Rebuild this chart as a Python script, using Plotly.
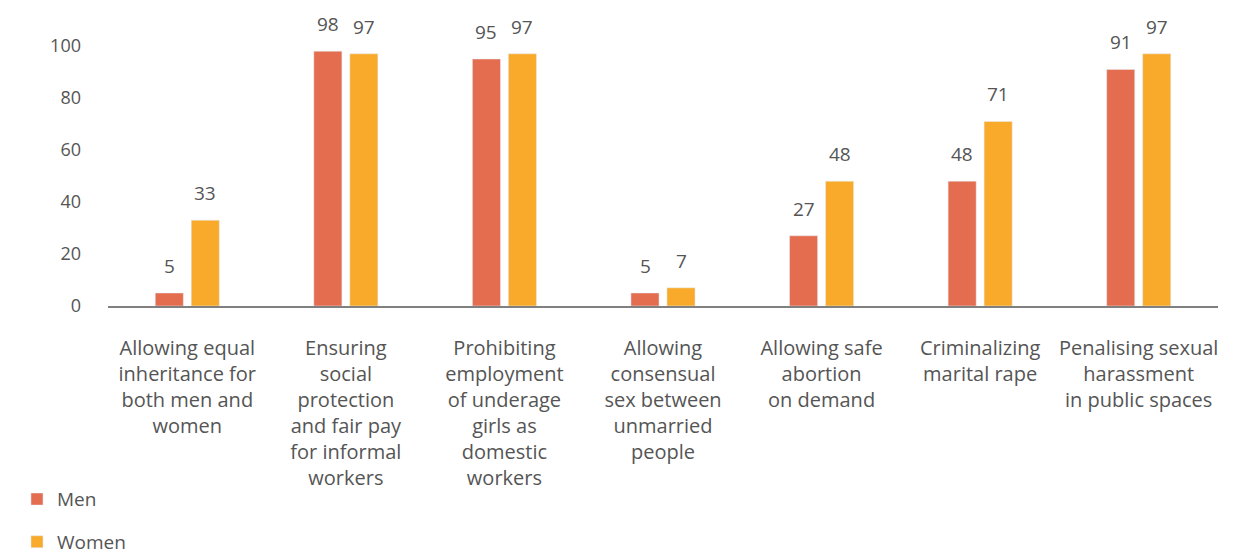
import plotly.graph_objects as go

categories = [
    "Allowing equal<br>inheritance for<br>both men and<br>women",
    "Ensuring<br>social<br>protection<br>and fair pay<br>for informal<br>workers",
    "Prohibiting<br>employment<br>of underage<br>girls as<br>domestic<br>workers",
    "Allowing<br>consensual<br>sex between<br>unmarried<br>people",
    "Allowing safe<br>abortion<br>on demand",
    "Criminalizing<br>marital rape",
    "Penalising sexual<br>harassment<br>in public spaces",
]
men = [5, 98, 95, 5, 27, 48, 91]
women = [33, 97, 97, 7, 48, 71, 97]
y_ticks = [0, 20, 40, 60, 80, 100]

MEN_COLOR = "#E46C4F"
WOMEN_COLOR = "#F9AA2A"
TEXT_COLOR = "#555555"
FONT = "Open Sans"

fig = go.Figure()
fig.add_trace(go.Bar(name="Men", x=categories, y=men, marker_color=MEN_COLOR,
                     legendgroup="m", cliponaxis=False))
fig.add_trace(go.Bar(name="Women", x=categories, y=women, marker_color=WOMEN_COLOR,
                     legendgroup="w", cliponaxis=False))

for i, cat in enumerate(categories):
    for vals, shift in ((men, -18), (women, 18)):
        fig.add_annotation(x=cat, y=vals[i], xref="x", yref="y", text=str(vals[i]),
                           showarrow=False, xshift=shift, yshift=27, yanchor="middle",
                           font=dict(family=FONT, size=19, color=TEXT_COLOR))

fig.update_layout(
    width=1223, height=549,
    margin=dict(l=100, r=13, t=38, b=251, autoexpand=False),
    paper_bgcolor="white", plot_bgcolor="white",
    barmode="group", bargap=0.546, bargroupgap=0.22,
    font=dict(family=FONT, size=19, color=TEXT_COLOR),
    legend=dict(x=-0.082, y=-0.67, xanchor="left", yanchor="top",
                font=dict(family=FONT, size=19, color=TEXT_COLOR),
                tracegroupgap=15, traceorder="grouped", itemwidth=30),
    xaxis=dict(showline=True, linecolor="#808080", linewidth=2, ticks="",
               ticklabelstandoff=23, tickfont=dict(family=FONT, size=20, color=TEXT_COLOR),
               tickangle=0),
    yaxis=dict(range=[0, 100], tickvals=y_ticks, showgrid=False, zeroline=False,
               showline=False, ticklabelstandoff=26,
               tickfont=dict(family=FONT, size=18, color=TEXT_COLOR)),
)

fig.write_html("out.html")
